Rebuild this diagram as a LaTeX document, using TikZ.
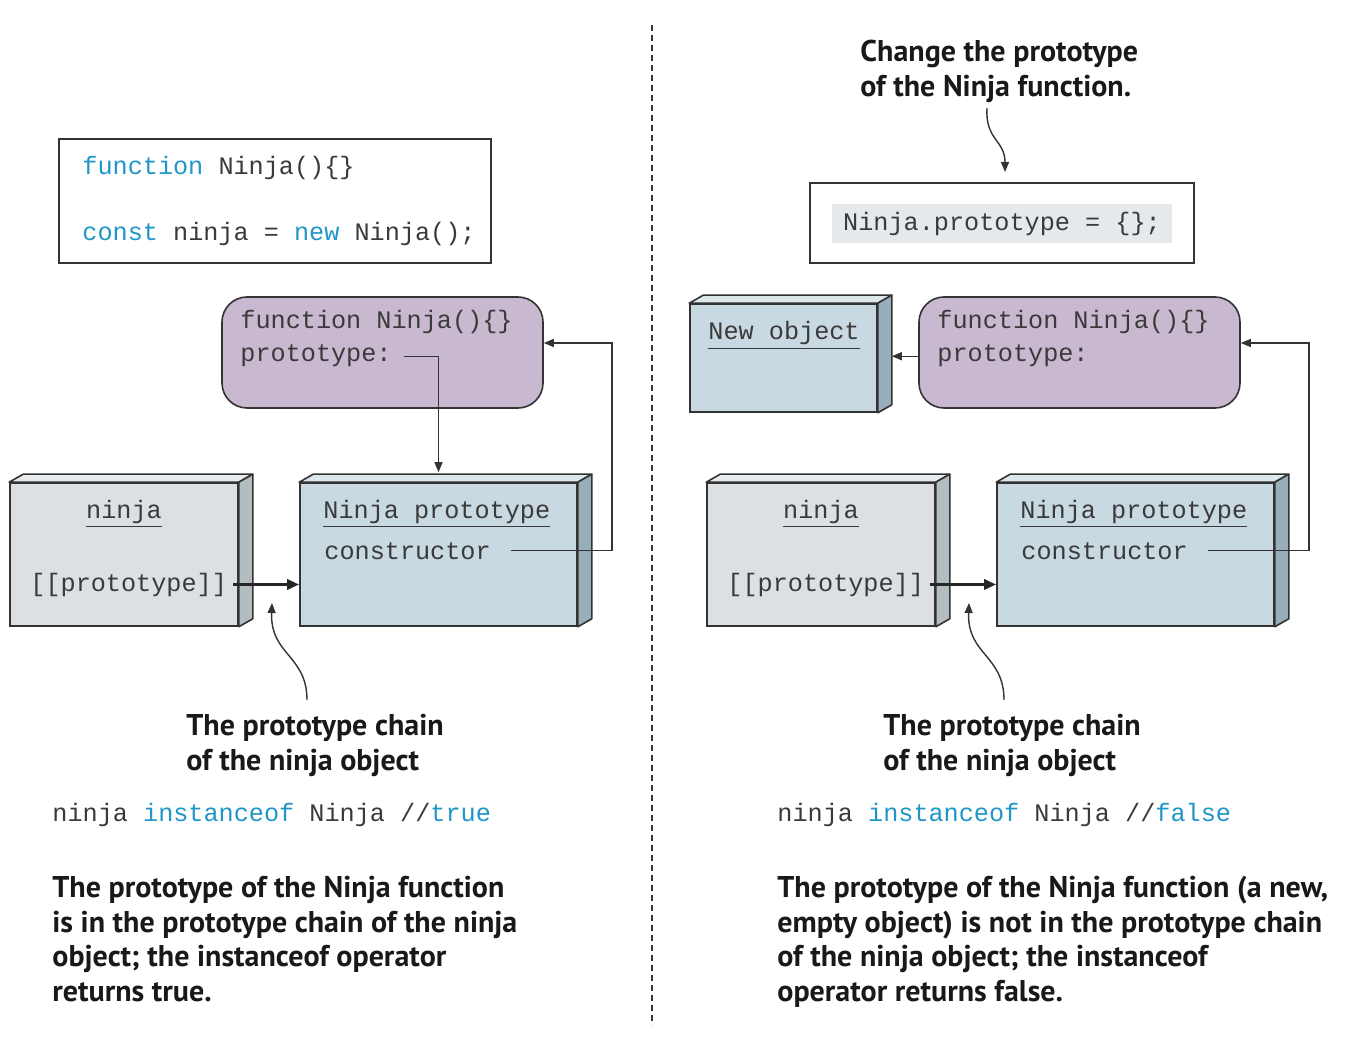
\documentclass[tikz,border=0pt]{standalone}
\usepackage{fontspec}
\setmonofont{Liberation Mono}
\newfontfamily\capfont{PT Sans}
\usetikzlibrary{arrows.meta}

\definecolor{ink}{HTML}{3A3A3A}
\definecolor{edge}{HTML}{333333}
\definecolor{kwblue}{RGB}{32,150,200}
\definecolor{greyface}{HTML}{DCE0E3}
\definecolor{greytop}{HTML}{E8EBED}
\definecolor{greyside}{HTML}{B3BCC1}
\definecolor{blueface}{HTML}{C8D9E1}
\definecolor{bluetop}{HTML}{DCE7EC}
\definecolor{blueside}{HTML}{98AFBB}
\definecolor{fnpurple}{HTML}{C8B8D0}
\definecolor{codebg}{HTML}{E5E9EB}

\newcommand\kw[1]{\textcolor{kwblue}{#1}}
% top and side faces of a box node: name, top colour, side colour
\newcommand\slab[3]{%
  \filldraw[fill=#2, draw=edge, line width=0.8pt, line join=round]
    (#1.north west) -- ++(14,-8) -- ([shift={(14,-8)}]#1.north east) -- (#1.north east) -- cycle;
  \filldraw[fill=#3, draw=edge, line width=0.8pt, line join=round]
    (#1.north east) -- ++(14,-8) -- ([shift={(14,-8)}]#1.south east) -- (#1.south east) -- cycle;
}

\begin{document}
\begin{tikzpicture}[x=0.5pt, y=-0.5pt,
    src/.style={font=\ttfamily\fontsize{12.6}{15}\selectfont, text=ink, inner sep=0pt},
    remark/.style={font=\capfont\bfseries\fontsize{15}{17.25}\selectfont, text=black!90,
      align=left, inner sep=0pt, anchor=north west},
    codebox/.style={draw=edge, line width=0.8pt, inner sep=0pt},
    fnbox/.style={draw=edge, line width=0.8pt, fill=fnpurple, rounded corners=12.5pt,
      minimum width=160.5pt, minimum height=55.5pt, inner sep=0pt},
    slabbox/.style={draw=edge, line width=0.8pt, minimum height=71.5pt, inner sep=0pt},
    link/.style={draw=edge, line width=0.7pt, -{Triangle[length=5pt,width=4pt]}},
    chain/.style={draw=black!85, line width=1.5pt, -{Triangle[length=6pt,width=5pt]}},
    divider/.style={draw=edge, line width=0.6pt, dash pattern=on 3pt off 2pt}]
    \useasboundingbox (0,0) rectangle (1364,1042);
    \draw[divider] (652,25) -- (652,1025);

    % left half: the prototype is still in the chain
    \node[codebox, minimum width=216pt, minimum height=62pt] (lcode) at (275,201) {};
    \node[src, anchor=base west] (lcode1) at (82,175) {\kw{function} Ninja()\{\}};
    \node[src, anchor=base west] (lcode2) at (82,241) {\kw{const} ninja = \kw{new} Ninja();};

    \node[fnbox] (lfn) at (382.5,352.5) {};
    \node[src, anchor=base west] (lfnname) at (240,329) {function Ninja()\{\}};
    \node[src, anchor=base west] (lfnproto) at (240,362) {prototype:};

    \node[slabbox, fill=greyface, minimum width=114pt] (lninja) at (124,554.5) {};
    \slab{lninja}{greytop}{greyside}
    \node[src, anchor=base] (lninjaname) at (124,518) {\underline{ninja}};
    \node[src, anchor=base west] (lninjaproto) at (30,591) {[[prototype]]};

    \node[slabbox, fill=blueface, minimum width=138.5pt] (lproto) at (438.5,554.5) {};
    \slab{lproto}{bluetop}{blueside}
    \node[src, anchor=base west] (lprotoname) at (323,518) {\underline{Ninja prototype}};
    \node[src, anchor=base west] (lprotoctor) at (324,559) {constructor};

    \coordinate (lback) at (612,343);
    \draw[link] ([xshift=6pt]lfnproto.east) -| ([yshift=5pt]lproto.north);
    \draw[link] ([xshift=10pt]lprotoctor.east) -| (lback) -- (lfn.east |- lback);
    \draw[chain] ([xshift=3pt]lninjaproto.east) -- (lproto.west |- lninjaproto.east);

    \coordinate (lnote) at (307,700);
    \coordinate (lnotetip) at (272,603);
    \draw[link] (lnote) .. controls (307,655) and (270,655) .. (lnotetip);
    \node[remark] (lcap) at (186,714) {The prototype chain\\of the ninja object};
    \node[src, anchor=base west] (ltest) at (52,821) {ninja \kw{instanceof} Ninja //\kw{true}};
    \node[remark] (lsum) at (52,876) {The prototype of the Ninja function\\is in the prototype chain of the ninja\\object; the instanceof operator\\returns true.};

    % right half: the prototype has been replaced
    \node[remark] (rcap) at (860,40) {Change the prototype\\of the Ninja function.};
    \node[codebox, minimum width=192pt, minimum height=40pt] (rcode) at (1002,223) {};
    \node[src, fill=codebg, minimum width=170pt, minimum height=19.5pt] (rcodeline) at (1002,223.5) {Ninja.prototype = \{\};};
    \coordinate (rtop) at (987,108);
    \coordinate (rtoptip) at (1005,172);
    \draw[link] (rtop) .. controls (985,140) and (1005,140) .. (rtoptip);

    \node[slabbox, fill=blueface, minimum width=93.5pt, minimum height=54pt] (rnew) at (783.5,358) {};
    \slab{rnew}{bluetop}{blueside}
    \node[src, anchor=base west] (rnewname) at (708,340) {\underline{New object}};

    \node[fnbox] (rfn) at (1079.5,352.5) {};
    \node[src, anchor=base west] (rfnname) at (937,329) {function Ninja()\{\}};
    \node[src, anchor=base west] (rfnproto) at (937,362) {prototype:};
    \coordinate (rnewside) at ([xshift=7pt]rnew.east);
    \draw[link] (rfn.west |- rfnproto.east) -- (rnewside |- rfnproto.east);

    \node[slabbox, fill=greyface, minimum width=114pt] (rninja) at (821,554.5) {};
    \slab{rninja}{greytop}{greyside}
    \node[src, anchor=base] (rninjaname) at (821,518) {\underline{ninja}};
    \node[src, anchor=base west] (rninjaproto) at (727,591) {[[prototype]]};

    \node[slabbox, fill=blueface, minimum width=138.5pt] (rproto) at (1135.5,554.5) {};
    \slab{rproto}{bluetop}{blueside}
    \node[src, anchor=base west] (rprotoname) at (1020,518) {\underline{Ninja prototype}};
    \node[src, anchor=base west] (rprotoctor) at (1021,559) {constructor};

    \coordinate (rback) at (1309,343);
    \draw[link] ([xshift=10pt]rprotoctor.east) -| (rback) -- (rfn.east |- rback);
    \draw[chain] ([xshift=3pt]rninjaproto.east) -- (rproto.west |- rninjaproto.east);

    \coordinate (rnote) at (1004,700);
    \coordinate (rnotetip) at (969,603);
    \draw[link] (rnote) .. controls (1004,655) and (967,655) .. (rnotetip);
    \node[remark] (rcap2) at (883,714) {The prototype chain\\of the ninja object};
    \node[src, anchor=base west] (rtest) at (777,821) {ninja \kw{instanceof} Ninja //\kw{false}};
    \node[remark] (rsum) at (777,876) {The prototype of the Ninja function (a new,\\empty object) is not in the prototype chain\\of the ninja object; the instanceof\\operator returns false.};
\end{tikzpicture}
\end{document}
